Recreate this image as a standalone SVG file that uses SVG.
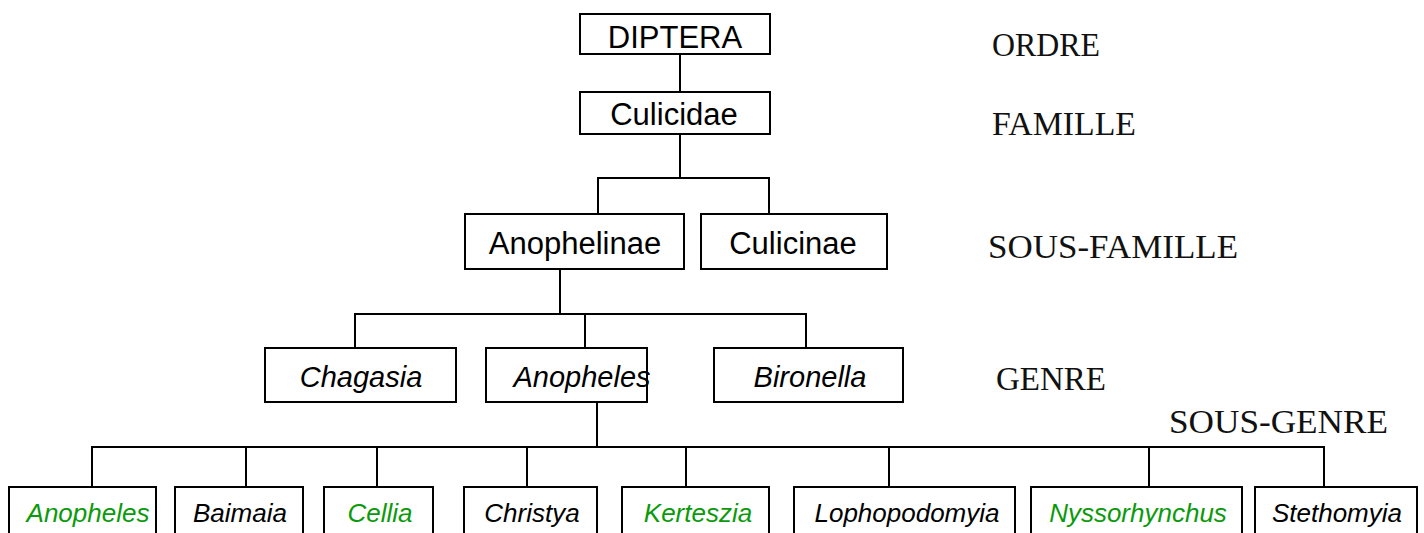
<svg xmlns="http://www.w3.org/2000/svg" width="1424" height="533" viewBox="0 0 1424 533">
<style>
.box{fill:#fff;stroke:#000;stroke-width:2}
.t{font-family:"Liberation Sans",Arial,sans-serif;fill:#000;text-anchor:middle}
.up{font-size:31px}
.g{font-size:29px;font-style:italic}
.sg{font-size:26px;font-style:italic}
.green{fill:#0b9a0b}
.lvl{font-family:"Liberation Serif","DejaVu Serif",serif;font-size:33px;fill:#111}
.c{fill:none;stroke:#000;stroke-width:2}
</style>
<rect width="1424" height="533" fill="#fff"/>
<g id="connectors">
<path class="c" d="M680 54V92"/>
<path class="c" d="M680 134V178M597 178H770M598 178V214M769 178V214"/>
<path class="c" d="M560 269V314M354 314H807M355 314V348M585 314V348M806 314V348"/>
<path class="c" d="M597 402V447M91 447H1325M92 447V487M246 447V487M377 447V487M527 447V487M686 447V487M889 447V487M1149 447V487M1324 447V487"/>
</g>
<g id="n-diptera"><rect class="box" x="580" y="14" width="190" height="40"/><text class="t up" x="675" y="48">DIPTERA</text></g>
<g id="n-culicidae"><rect class="box" x="580" y="92" width="190" height="42"/><text class="t up" x="674" y="125">Culicidae</text></g>
<g id="n-anophelinae"><rect class="box" x="465" y="214" width="219" height="55"/><text class="t up" x="575" y="254">Anophelinae</text></g>
<g id="n-culicinae"><rect class="box" x="701" y="214" width="186" height="55"/><text class="t up" x="793" y="254">Culicinae</text></g>
<g id="n-chagasia"><rect class="box" x="265" y="348" width="191" height="54"/><text class="t g" x="361" y="387">Chagasia</text></g>
<g id="n-anopheles-g"><rect class="box" x="486" y="348" width="161" height="54"/><text class="t g" x="582" y="387">Anopheles</text></g>
<g id="n-bironella"><rect class="box" x="714" y="348" width="189" height="54"/><text class="t g" x="810" y="387">Bironella</text></g>
<g id="n-anopheles-sg"><rect class="box" x="9" y="487" width="147" height="60"/><text class="t sg green" x="88" y="522">Anopheles</text></g>
<g id="n-baimaia"><rect class="box" x="175" y="487" width="128" height="60"/><text class="t sg" x="240" y="522">Baimaia</text></g>
<g id="n-cellia"><rect class="box" x="324" y="487" width="109" height="60"/><text class="t sg green" x="380" y="522">Cellia</text></g>
<g id="n-christya"><rect class="box" x="464" y="487" width="133" height="60"/><text class="t sg" x="532" y="522">Christya</text></g>
<g id="n-kerteszia"><rect class="box" x="622" y="487" width="147" height="60"/><text class="t sg green" x="698" y="522">Kerteszia</text></g>
<g id="n-lophopodomyia"><rect class="box" x="794" y="487" width="221" height="60"/><text class="t sg" x="907" y="522">Lophopodomyia</text></g>
<g id="n-nyssorhynchus"><rect class="box" x="1031" y="487" width="211" height="60"/><text class="t sg green" x="1138" y="522">Nyssorhynchus</text></g>
<g id="n-stethomyia"><rect class="box" x="1255" y="487" width="162" height="60"/><text class="t sg" x="1337" y="522">Stethomyia</text></g>
<g id="levels">
<text class="lvl" x="992" y="56" textLength="108" lengthAdjust="spacingAndGlyphs">ORDRE</text>
<text class="lvl" x="992" y="135" textLength="144" lengthAdjust="spacingAndGlyphs">FAMILLE</text>
<text class="lvl" x="988" y="258" textLength="250" lengthAdjust="spacingAndGlyphs">SOUS-FAMILLE</text>
<text class="lvl" x="996" y="390" textLength="110" lengthAdjust="spacingAndGlyphs">GENRE</text>
<text class="lvl" x="1169" y="433" textLength="219" lengthAdjust="spacingAndGlyphs">SOUS-GENRE</text>
</g>
</svg>
